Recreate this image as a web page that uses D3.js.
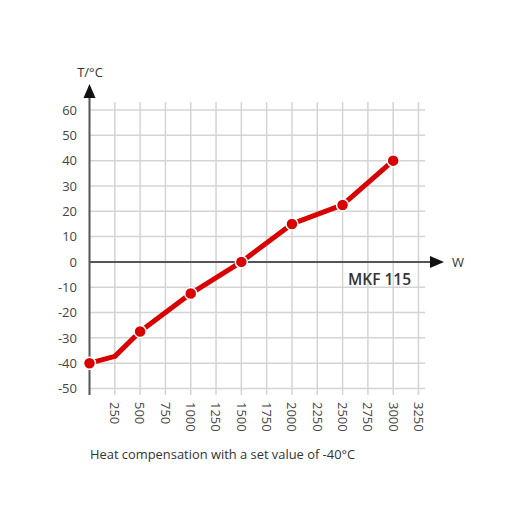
<!DOCTYPE html>
<html><head><meta charset="utf-8">
<script src="https://cdn.jsdelivr.net/npm/d3@7"></script>
<style>body{margin:0;background:#fff}svg text{font-family:"Open Sans",sans-serif}</style>
</head><body><svg id="c" width="515" height="515"></svg>
<script>
const powerW = [0, 250, 500, 1000, 1500, 2000, 2500, 3000];
const tempC = [-40, -37.3, -27.5, -12.5, 0, 15, 22.5, 40];
const markerIdx = [0, 2, 3, 4, 5, 6, 7];
const xTicks = [250, 500, 750, 1000, 1250, 1500, 1750, 2000, 2250, 2500, 2750, 3000, 3250];
const yTicks = [60, 50, 40, 30, 20, 10, 0, -10, -20, -30, -40, -50];
const yLabel = "T/°C", xLabel = "W", modelName = "MKF 115";
const caption = "Heat compensation with a set value of -40°C";

const svg = d3.select("#c");
const x = d3.scaleLinear().domain([0, 3250]).range([89.5, 418.5]);
const y = d3.scaleLinear().domain([-50, 60]).range([388.5, 110]);

// grid
const g = svg.append("g");
g.selectAll(".hg").data(yTicks.filter(d => d !== 0)).join("line")
  .attr("x1", x(0)).attr("x2", 425).attr("y1", d => y(d)).attr("y2", d => y(d))
  .attr("stroke", "#d4d4d4").attr("stroke-width", 1.5);
g.selectAll(".vg").data(xTicks).join("line")
  .attr("x1", d => x(d)).attr("x2", d => x(d)).attr("y1", 102).attr("y2", 395)
  .attr("stroke", "#d4d4d4").attr("stroke-width", 1.5);

// y axis
svg.append("line").attr("x1", x(0)).attr("x2", x(0)).attr("y1", 395).attr("y2", 95)
  .attr("stroke", "#555").attr("stroke-width", 2);
svg.append("path").attr("d", `M${x(0)-6},98 L${x(0)},84 L${x(0)+6},98 Z`).attr("fill", "#111");
// x axis at 0
svg.append("line").attr("x1", x(0)).attr("x2", 432).attr("y1", y(0)).attr("y2", y(0))
  .attr("stroke", "#555").attr("stroke-width", 2);
svg.append("path").attr("d", `M430,${y(0)-6} L444,${y(0)} L430,${y(0)+6} Z`).attr("fill", "#111");

// y tick labels
svg.selectAll(".yl").data(yTicks).join("text")
  .attr("x", 77).attr("y", d => y(d)).attr("dy", "0.36em").attr("text-anchor", "end")
  .attr("font-size", 13).attr("fill", "#444").text(d => d);
// x tick labels rotated
svg.selectAll(".xl").data(xTicks).join("text")
  .attr("transform", d => `translate(${x(d)},402) rotate(90)`)
  .attr("dy", "0.36em").attr("text-anchor", "start")
  .attr("font-size", 13).attr("fill", "#444").text(d => d);

svg.append("text").attr("x", 90).attr("y", 77).attr("text-anchor", "middle")
  .attr("font-size", 13).attr("fill", "#333").text(yLabel);
svg.append("text").attr("x", 452).attr("y", y(0)).attr("dy", "0.36em")
  .attr("font-size", 13).attr("fill", "#333").text(xLabel);
svg.append("text").attr("x", 411).attr("y", 285).attr("text-anchor", "end")
  .attr("font-size", 15.5).attr("font-weight", 600).attr("fill", "#333").text(modelName);
svg.append("text").attr("x", 90).attr("y", 459)
  .attr("font-size", 12.9).attr("fill", "#333").text(caption);

// series
const pts = powerW.map((p, i) => [p, tempC[i]]);
svg.append("path").datum(pts)
  .attr("d", d3.line().x(d => x(d[0])).y(d => y(d[1])))
  .attr("fill", "none").attr("stroke", "#d80000").attr("stroke-width", 5)
  .attr("stroke-linejoin", "round");
svg.selectAll(".pt").data(markerIdx.map(i => pts[i])).join("circle")
  .attr("cx", d => x(d[0])).attr("cy", d => y(d[1])).attr("r", 6)
  .attr("fill", "#d80000").attr("stroke", "#fff").attr("stroke-width", 1.5);
</script></body></html>
